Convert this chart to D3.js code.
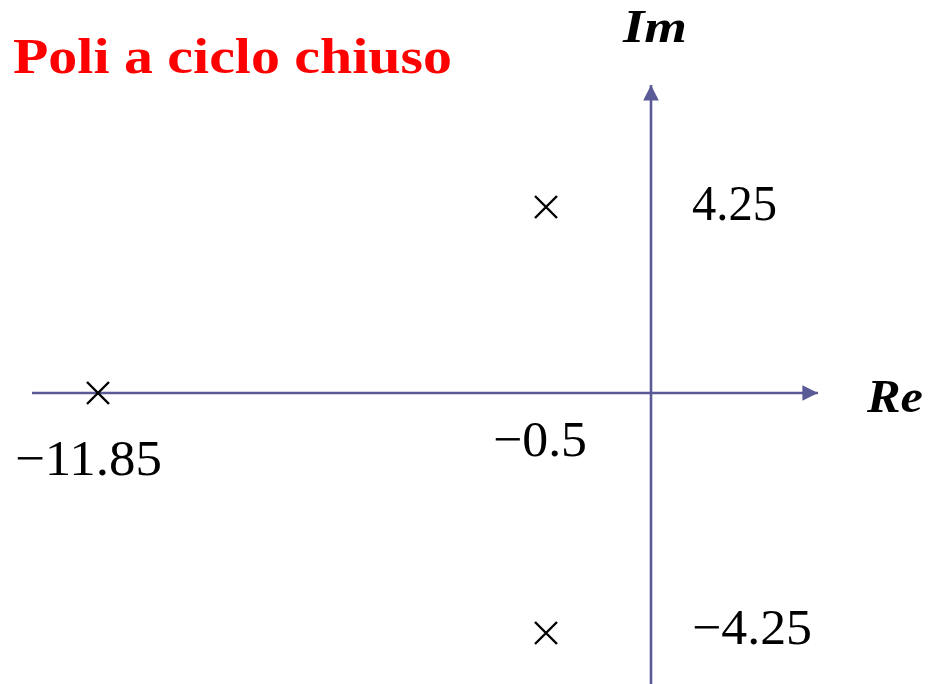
<!DOCTYPE html>
<html>
<head>
<meta charset="utf-8">
<script src="https://cdn.jsdelivr.net/npm/d3@7"></script>
<style>
  body { margin: 0; background: #fff; }
  svg { display: block; }
</style>
</head>
<body>
<div id="chart"></div>
<script>
// closed-loop poles (real, imaginary) and their labels
var poleRe = [-0.5, -11.85, -0.5];
var poleIm = [4.25, 0, -4.25];
var reValues = [-0.5, -11.85];
var reLabels = ["\u22120.5", "\u221211.85"];
var imValues = [4.25, -4.25];
var imLabels = ["4.25", "\u22124.25"];
var title = "Poli a ciclo chiuso";

var svgWidth = 937, svgHeight = 684;
var axisColor = "#5a5a96";

var svg = d3.select("#chart").append("svg")
  .attr("width", svgWidth)
  .attr("height", svgHeight);

// the sketch is not to scale, so piecewise scales through the labelled values
var xScale = d3.scaleLinear()
  .domain([-13.25, -11.85, -0.5, 0, 3.6])
  .range([32, 98, 546, 651, 818]);
var yScale = d3.scaleLinear()
  .domain([-5.5, -4.25, 0, 4.25, 7.5])
  .range([684, 633, 393, 207, 85]);

var x0 = xScale(0), y0 = yScale(0);
var xEnd = xScale.range(), yEnd = yScale.range();

// arrow marker
svg.append("defs").append("marker")
  .attr("id", "arrow")
  .attr("viewBox", "0 0 10 10")
  .attr("refX", 10).attr("refY", 5)
  .attr("markerWidth", 6.6).attr("markerHeight", 6)
  .attr("markerUnits", "strokeWidth")
  .attr("orient", "auto")
  .append("path")
  .attr("d", "M0,0 L10,5 L0,10 Z")
  .attr("fill", axisColor);

// real axis
svg.append("line")
  .attr("x1", xEnd[0]).attr("x2", xEnd[xEnd.length - 1])
  .attr("y1", y0).attr("y2", y0)
  .attr("stroke", axisColor).attr("stroke-width", 2.6)
  .attr("marker-end", "url(#arrow)");

// imaginary axis
svg.append("line")
  .attr("x1", x0).attr("x2", x0)
  .attr("y1", yEnd[0]).attr("y2", yEnd[yEnd.length - 1])
  .attr("stroke", axisColor).attr("stroke-width", 2.6)
  .attr("marker-end", "url(#arrow)");

// poles as crosses
var s = 11;
svg.selectAll(".pole")
  .data(poleRe.map(function(d, i) { return {re: d, im: poleIm[i]}; }))
  .enter()
  .append("path")
  .attr("class", "pole")
  .attr("transform", d => `translate(${xScale(d.re)},${yScale(d.im)})`)
  .attr("d", `M${-s},${-s}L${s},${s}M${-s},${s}L${s},${-s}`)
  .attr("stroke", "#000")
  .attr("stroke-width", 2.4)
  .attr("fill", "none");

var numFont = "'Liberation Serif', 'DejaVu Serif', serif";

// labels on the real axis (below, ending right of the pole)
var reOffset = [41, 64], reDrop = [63, 82], reWidth = [94, 147];
svg.selectAll(".reLabel")
  .data(reValues)
  .enter()
  .append("text")
  .attr("class", "reLabel")
  .attr("x", (d, i) => xScale(d) + reOffset[i] - reWidth[i])
  .attr("y", (d, i) => y0 + reDrop[i])
  .attr("textLength", (d, i) => reWidth[i])
  .attr("lengthAdjust", "spacingAndGlyphs")
  .style("font-family", numFont)
  .style("font-size", "50px")
  .text((d, i) => reLabels[i]);

// labels on the imaginary axis (right)
var imWidth = [85, 120];
svg.selectAll(".imLabel")
  .data(imValues)
  .enter()
  .append("text")
  .attr("class", "imLabel")
  .attr("x", x0 + 41)
  .attr("y", (d, i) => yScale(d) + (i === 0 ? 13 : 11))
  .attr("textLength", (d, i) => imWidth[i])
  .attr("lengthAdjust", "spacingAndGlyphs")
  .style("font-family", numFont)
  .style("font-size", "50px")
  .text((d, i) => imLabels[i]);

// axis names
svg.append("text")
  .attr("x", 867).attr("y", 412)
  .attr("textLength", 56)
  .attr("lengthAdjust", "spacingAndGlyphs")
  .style("font-family", numFont)
  .style("font-size", "47px")
  .style("font-weight", "bold")
  .style("font-style", "italic")
  .text("Re");

svg.append("text")
  .attr("x", 623).attr("y", 42)
  .attr("textLength", 64)
  .attr("lengthAdjust", "spacingAndGlyphs")
  .style("font-family", numFont)
  .style("font-size", "47px")
  .style("font-weight", "bold")
  .style("font-style", "italic")
  .text("Im");

// title
svg.append("text")
  .attr("x", 13).attr("y", 73)
  .attr("textLength", 439)
  .attr("lengthAdjust", "spacingAndGlyphs")
  .style("font-family", "'Liberation Serif', 'DejaVu Serif', serif")
  .style("font-size", "50px")
  .style("font-weight", "bold")
  .attr("fill", "#ff0000")
  .text(title);
</script>
</body>
</html>
